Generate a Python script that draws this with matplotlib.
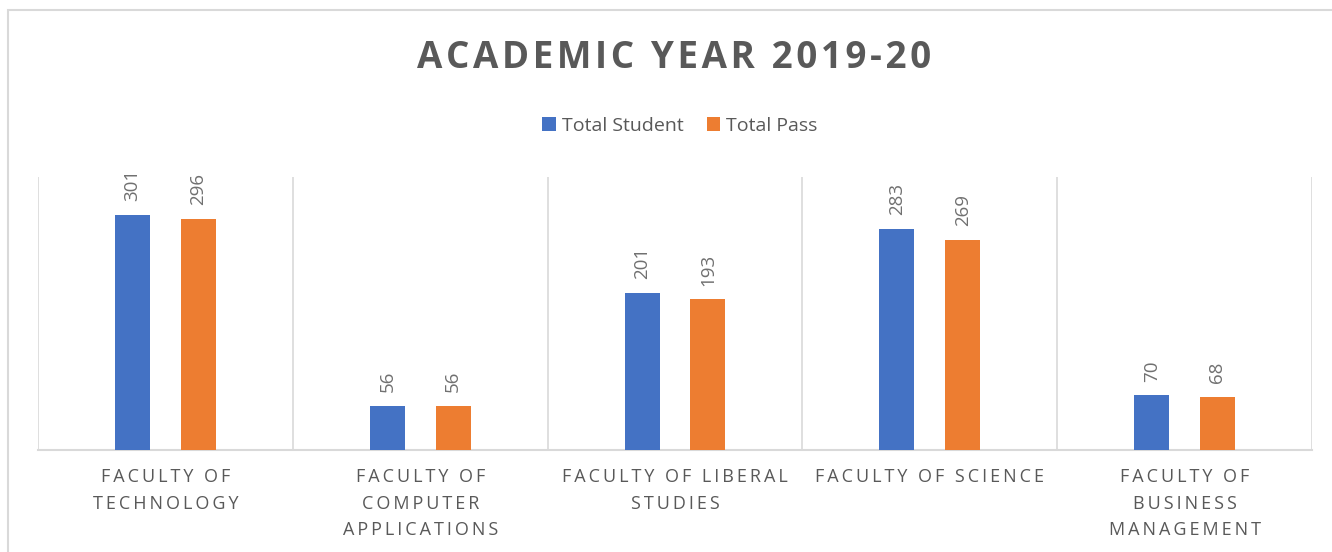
import matplotlib
matplotlib.use("Agg")
import matplotlib.pyplot as plt
from matplotlib.patches import Rectangle
import numpy as np

categories = ["FACULTY OF\nTECHNOLOGY", "FACULTY OF\nCOMPUTER\nAPPLICATIONS",
              "FACULTY OF LIBERAL\nSTUDIES", "FACULTY OF SCIENCE",
              "FACULTY OF\nBUSINESS\nMANAGEMENT"]
total_student = [301, 56, 201, 283, 70]
total_pass = [296, 56, 193, 269, 68]
series_names = ["Total Student", "Total Pass"]
title = "ACADEMIC YEAR 2019-20"

BLUE = "#4472C4"
ORANGE = "#ED7D31"
GREY = "#595959"
LGREY = "#707070"
GRID = "#D9D9D9"
FONT = ["Open Sans", "DejaVu Sans"]


def spaced(s, sep="\u2009"):
    return "\n".join(sep.join(line) for line in s.split("\n"))


fig = plt.figure(figsize=(13.32, 5.52), dpi=100)
fig.add_artist(Rectangle((8 / 1332, -0.1), 1.1, 1.1 - 10 / 552, transform=fig.transFigure,
                         fill=False, edgecolor=GRID, linewidth=1.5))

ax = fig.add_axes([38 / 1332, 102 / 552, (1312 - 38) / 1332, (450 - 177) / 552])
x = np.arange(len(categories))
w = 0.137
off = 0.129
b1 = ax.bar(x - off, total_student, w, color=BLUE, label=series_names[0], zorder=3)
b2 = ax.bar(x + off, total_pass, w, color=ORANGE, label=series_names[1], zorder=3)

for bars in (b1, b2):
    for r in bars:
        ax.annotate(f"{int(r.get_height())}", (r.get_x() + r.get_width() / 2, r.get_height()),
                    xytext=(0, 10), textcoords="offset points", rotation=90,
                    ha="center", va="bottom", fontsize=13.5, color=LGREY, family=FONT)

ax.set_xlim(-0.5, len(categories) - 0.5)
ax.set_ylim(0, 350)
ax.set_yticks([])
ax.set_xticks(x)
ax.set_xticklabels([spaced(c) for c in categories], fontsize=13, color=GREY,
                   family=FONT, linespacing=1.62)
ax.tick_params(axis="x", length=0, pad=13)
ax.set_xticks(np.arange(len(categories) + 1) - 0.5, minor=True)
ax.tick_params(axis="x", which="minor", length=0)
ax.grid(True, axis="x", which="minor", color=GRID, linewidth=1.2, zorder=0)
for s in ("top", "right", "left"):
    ax.spines[s].set_visible(False)
ax.spines["bottom"].set_color(GRID)
ax.spines["bottom"].set_linewidth(1.5)

fig.text(674 / 1332, 1 - 58 / 552, spaced(title, "\u200a"), ha="center", va="center",
         fontsize=26.5, fontweight="bold", color=GREY, family=FONT)

fig.legend(handles=[b1, b2], labels=series_names, loc="center", bbox_to_anchor=(680 / 1332, 1 - 126 / 552),
           ncol=2, frameon=False, handlelength=0.7, handleheight=0.7,
           handletextpad=0.3, columnspacing=1.2, labelcolor=GREY, prop={"family": FONT, "size": 14})

fig.savefig("out.png", dpi=100)
